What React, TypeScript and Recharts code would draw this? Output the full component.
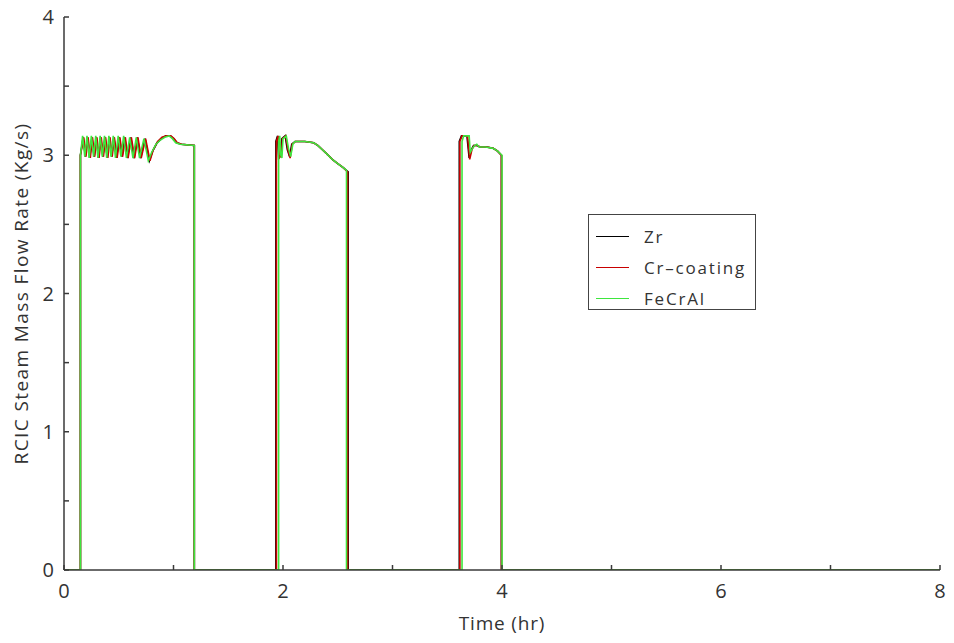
import React from 'react';
import { LineChart, Line, XAxis, YAxis, Legend, Label } from 'recharts';

const xTicks = [0, 1, 2, 3, 4, 5, 6, 7, 8];
const yTicks = [0, 0.5, 1, 1.5, 2, 2.5, 3, 3.5, 4];
const xLabelTicks = [0, 2, 4, 6, 8];
const yLabelTicks = [0, 1, 2, 3, 4];

const seriesNames = ['Zr', 'Cr\u2013coating', 'FeCrAl'];
const seriesColors = ['#000000', '#c80000', '#3ee63e'];

const zrData = [
  { t: 0, v: 0 }, { t: 0.15, v: 0 }, { t: 0.15, v: 3.0 },
  { t: 0.175, v: 3.13 }, { t: 0.195, v: 2.99 }, { t: 0.215, v: 3.13 }, { t: 0.235, v: 2.98 },
  { t: 0.255, v: 3.13 }, { t: 0.275, v: 2.99 }, { t: 0.295, v: 3.13 }, { t: 0.315, v: 2.98 },
  { t: 0.335, v: 3.13 }, { t: 0.355, v: 2.99 }, { t: 0.375, v: 3.13 }, { t: 0.395, v: 2.98 },
  { t: 0.415, v: 3.13 }, { t: 0.435, v: 2.99 }, { t: 0.455, v: 3.13 }, { t: 0.48, v: 2.98 },
  { t: 0.505, v: 3.13 }, { t: 0.53, v: 2.99 }, { t: 0.555, v: 3.13 }, { t: 0.58, v: 2.98 },
  { t: 0.61, v: 3.13 }, { t: 0.64, v: 2.98 }, { t: 0.67, v: 3.13 }, { t: 0.70, v: 2.98 },
  { t: 0.74, v: 3.12 }, { t: 0.78, v: 2.96 }, { t: 0.81, v: 3.03 }, { t: 0.85, v: 3.09 },
  { t: 0.89, v: 3.12 }, { t: 0.93, v: 3.14 }, { t: 0.97, v: 3.14 }, { t: 1.0, v: 3.12 },
  { t: 1.03, v: 3.09 }, { t: 1.07, v: 3.08 }, { t: 1.19, v: 3.07 }, { t: 1.19, v: 0 },
  { t: 1.935, v: 0 }, { t: 1.935, v: 3.1 }, { t: 1.95, v: 3.14 }, { t: 1.96, v: 2.98 },
  { t: 1.98, v: 3.0 }, { t: 1.99, v: 3.12 }, { t: 2.02, v: 3.14 }, { t: 2.04, v: 3.04 },
  { t: 2.06, v: 2.99 }, { t: 2.08, v: 3.08 }, { t: 2.11, v: 3.1 }, { t: 2.2, v: 3.1 },
  { t: 2.28, v: 3.09 }, { t: 2.32, v: 3.07 }, { t: 2.36, v: 3.04 }, { t: 2.4, v: 3.01 },
  { t: 2.45, v: 2.97 }, { t: 2.5, v: 2.94 }, { t: 2.55, v: 2.91 }, { t: 2.595, v: 2.88 },
  { t: 2.595, v: 0 }, { t: 3.61, v: 0 }, { t: 3.61, v: 3.1 }, { t: 3.63, v: 3.14 },
  { t: 3.68, v: 3.14 }, { t: 3.7, v: 2.98 }, { t: 3.72, v: 3.04 }, { t: 3.74, v: 3.07 },
  { t: 3.77, v: 3.07 }, { t: 3.8, v: 3.06 }, { t: 3.86, v: 3.06 }, { t: 3.92, v: 3.05 },
  { t: 3.96, v: 3.03 }, { t: 3.995, v: 3.0 }, { t: 3.995, v: 0 }, { t: 8, v: 0 },
];

const crData = [
  { t: 0, v: 0 }, { t: 0.15, v: 0 }, { t: 0.15, v: 3.0 },
  { t: 0.18, v: 3.13 }, { t: 0.2, v: 2.99 }, { t: 0.22, v: 3.13 }, { t: 0.24, v: 2.98 },
  { t: 0.26, v: 3.13 }, { t: 0.28, v: 2.99 }, { t: 0.3, v: 3.13 }, { t: 0.32, v: 2.98 },
  { t: 0.34, v: 3.13 }, { t: 0.36, v: 2.99 }, { t: 0.38, v: 3.13 }, { t: 0.4, v: 2.98 },
  { t: 0.42, v: 3.13 }, { t: 0.44, v: 2.99 }, { t: 0.46, v: 3.13 }, { t: 0.485, v: 2.98 },
  { t: 0.51, v: 3.13 }, { t: 0.535, v: 2.99 }, { t: 0.56, v: 3.13 }, { t: 0.585, v: 2.98 },
  { t: 0.615, v: 3.13 }, { t: 0.645, v: 2.98 }, { t: 0.675, v: 3.13 }, { t: 0.705, v: 2.98 },
  { t: 0.745, v: 3.12 }, { t: 0.785, v: 2.96 }, { t: 0.815, v: 3.04 }, { t: 0.855, v: 3.1 },
  { t: 0.895, v: 3.13 }, { t: 0.935, v: 3.14 }, { t: 0.975, v: 3.14 }, { t: 1.005, v: 3.12 },
  { t: 1.035, v: 3.09 }, { t: 1.075, v: 3.08 }, { t: 1.19, v: 3.07 }, { t: 1.19, v: 0 },
  { t: 1.94, v: 0 }, { t: 1.94, v: 3.1 }, { t: 1.955, v: 3.14 }, { t: 1.965, v: 2.98 },
  { t: 1.985, v: 3.0 }, { t: 1.995, v: 3.12 }, { t: 2.025, v: 3.14 }, { t: 2.045, v: 3.04 },
  { t: 2.065, v: 2.98 }, { t: 2.085, v: 3.08 }, { t: 2.115, v: 3.1 }, { t: 2.2, v: 3.1 },
  { t: 2.28, v: 3.09 }, { t: 2.32, v: 3.07 }, { t: 2.36, v: 3.04 }, { t: 2.4, v: 3.01 },
  { t: 2.45, v: 2.97 }, { t: 2.5, v: 2.94 }, { t: 2.55, v: 2.91 }, { t: 2.59, v: 2.88 },
  { t: 2.59, v: 0 }, { t: 3.615, v: 0 }, { t: 3.615, v: 3.1 }, { t: 3.635, v: 3.14 },
  { t: 3.685, v: 3.14 }, { t: 3.705, v: 2.97 }, { t: 3.725, v: 3.04 }, { t: 3.745, v: 3.07 },
  { t: 3.775, v: 3.07 }, { t: 3.8, v: 3.06 }, { t: 3.86, v: 3.06 }, { t: 3.92, v: 3.05 },
  { t: 3.96, v: 3.03 }, { t: 3.995, v: 3.0 }, { t: 3.995, v: 0 }, { t: 8, v: 0 },
];

const fecralData = [
  { t: 0, v: 0 }, { t: 0.15, v: 0 }, { t: 0.15, v: 3.0 },
  { t: 0.17, v: 3.14 }, { t: 0.19, v: 2.99 }, { t: 0.21, v: 3.14 }, { t: 0.23, v: 2.98 },
  { t: 0.25, v: 3.14 }, { t: 0.27, v: 2.99 }, { t: 0.29, v: 3.14 }, { t: 0.31, v: 2.98 },
  { t: 0.33, v: 3.14 }, { t: 0.35, v: 2.99 }, { t: 0.37, v: 3.14 }, { t: 0.39, v: 2.98 },
  { t: 0.41, v: 3.14 }, { t: 0.43, v: 2.99 }, { t: 0.45, v: 3.14 }, { t: 0.47, v: 2.98 },
  { t: 0.495, v: 3.14 }, { t: 0.52, v: 2.99 }, { t: 0.545, v: 3.14 }, { t: 0.57, v: 2.98 },
  { t: 0.6, v: 3.13 }, { t: 0.63, v: 2.98 }, { t: 0.66, v: 3.13 }, { t: 0.69, v: 2.98 },
  { t: 0.73, v: 3.12 }, { t: 0.77, v: 2.96 }, { t: 0.8, v: 3.02 }, { t: 0.84, v: 3.08 },
  { t: 0.88, v: 3.11 }, { t: 0.92, v: 3.13 }, { t: 0.96, v: 3.14 }, { t: 0.99, v: 3.12 },
  { t: 1.02, v: 3.09 }, { t: 1.06, v: 3.08 }, { t: 1.19, v: 3.07 }, { t: 1.19, v: 0 },
  { t: 1.96, v: 0 }, { t: 1.96, v: 3.1 }, { t: 1.97, v: 3.14 }, { t: 1.98, v: 3.0 },
  { t: 1.99, v: 2.98 }, { t: 2.0, v: 3.12 }, { t: 2.03, v: 3.14 }, { t: 2.05, v: 3.05 },
  { t: 2.07, v: 2.99 }, { t: 2.09, v: 3.08 }, { t: 2.11, v: 3.1 }, { t: 2.2, v: 3.1 },
  { t: 2.28, v: 3.09 }, { t: 2.32, v: 3.07 }, { t: 2.36, v: 3.04 }, { t: 2.4, v: 3.01 },
  { t: 2.45, v: 2.97 }, { t: 2.5, v: 2.94 }, { t: 2.55, v: 2.91 }, { t: 2.58, v: 2.89 },
  { t: 2.58, v: 0 }, { t: 3.635, v: 0 }, { t: 3.635, v: 3.1 }, { t: 3.65, v: 3.14 },
  { t: 3.7, v: 3.14 }, { t: 3.71, v: 3.02 }, { t: 3.73, v: 3.05 }, { t: 3.75, v: 3.07 },
  { t: 3.77, v: 3.08 }, { t: 3.79, v: 3.06 }, { t: 3.85, v: 3.06 }, { t: 3.92, v: 3.05 },
  { t: 3.96, v: 3.03 }, { t: 4.0, v: 3.0 }, { t: 4.0, v: 0 }, { t: 8, v: 0 },
];

const seriesData = [zrData, crData, fecralData];

const FONT = '"Open Sans", sans-serif';
const AXIS_COLOR = '#3a3a3a';

const LegendBox = () => (
  <div
    style={{
      width: 168,
      height: 96,
      border: '1.5px solid #444',
      background: '#fff',
      boxSizing: 'border-box',
      paddingTop: 6,
      fontFamily: FONT,
      fontSize: 17,
      color: '#333',
    }}
  >
    {seriesNames.map((name, i) => (
      <div key={name} style={{ display: 'flex', alignItems: 'center', height: 31 }}>
        <div style={{ width: 33, height: 0, borderTop: `1.5px solid ${seriesColors[i]}`, marginLeft: 7, marginRight: 15 }} />
        <span style={{ letterSpacing: 1.8 }}>{name}</span>
      </div>
    ))}
  </div>
);

export default function App() {
  const fmtX = (v: number) => (xLabelTicks.includes(v) ? String(v) : '');
  const fmtY = (v: number) => (yLabelTicks.includes(v) ? String(v) : '');
  return (
    <div style={{ position: 'absolute', left: 0, top: 0, width: 954, height: 643, background: '#fff' }}>
      <LineChart width={954} height={643} margin={{ top: 17, right: 14, left: 0, bottom: 0 }}>
        <XAxis
          xAxisId={0}
          dataKey="t"
          type="number"
          domain={[0, 8]}
          ticks={xTicks}
          interval={0}
          tickFormatter={fmtX}
          height={73}
          tickSize={-5}
          tickMargin={19}
          allowDataOverflow
          stroke={AXIS_COLOR}
          strokeWidth={1.5}
          tick={{ fill: '#333', fontSize: 20, fontFamily: FONT }}
        >
          <Label
            value="Time (hr)"
            position="center"
            dy={17}
            style={{ fill: '#333', fontSize: 19, fontFamily: FONT, letterSpacing: 0.8 }}
          />
        </XAxis>
        <XAxis
          xAxisId="top"
          orientation="top"
          type="number"
          domain={[0, 8]}
          ticks={xTicks}
          interval={0}
          height={0}
          tickSize={-5}
          tick={false}
          allowDataOverflow
          stroke={AXIS_COLOR}
          strokeWidth={1.5}
        />
        <YAxis
          yAxisId={0}
          type="number"
          domain={[0, 4]}
          ticks={yTicks}
          interval={0}
          tickFormatter={fmtY}
          width={64}
          tickSize={-5}
          tickMargin={15}
          allowDataOverflow
          stroke={AXIS_COLOR}
          strokeWidth={1.5}
          tick={{ fill: '#333', fontSize: 20, fontFamily: FONT }}
        >
          <Label
            value="RCIC Steam Mass Flow Rate (Kg/s)"
            position="center"
            angle={-90}
            dx={-11}
            style={{ fill: '#333', fontSize: 19, fontFamily: FONT, letterSpacing: 1.4, textAnchor: 'middle' }}
          />
        </YAxis>
        <YAxis
          yAxisId="right"
          orientation="right"
          type="number"
          domain={[0, 4]}
          ticks={yTicks}
          interval={0}
          width={0}
          tickSize={-5}
          tick={false}
          allowDataOverflow
          stroke={AXIS_COLOR}
          strokeWidth={1.5}
        />
        {seriesData.map((d, i) => (
          <Line
            key={seriesNames[i]}
            data={d}
            dataKey="v"
            name={seriesNames[i]}
            type="linear"
            stroke={seriesColors[i]}
            strokeWidth={1.6}
            dot={false}
            activeDot={false}
            isAnimationActive={false}
          />
        ))}
        <Legend
          layout="vertical"
          align="center"
          verticalAlign="middle"
          content={() => <LegendBox />}
          wrapperStyle={{ position: 'absolute', left: 588, top: 214, width: 168, height: 96, margin: 0 }}
        />
      </LineChart>
    </div>
  );
}
